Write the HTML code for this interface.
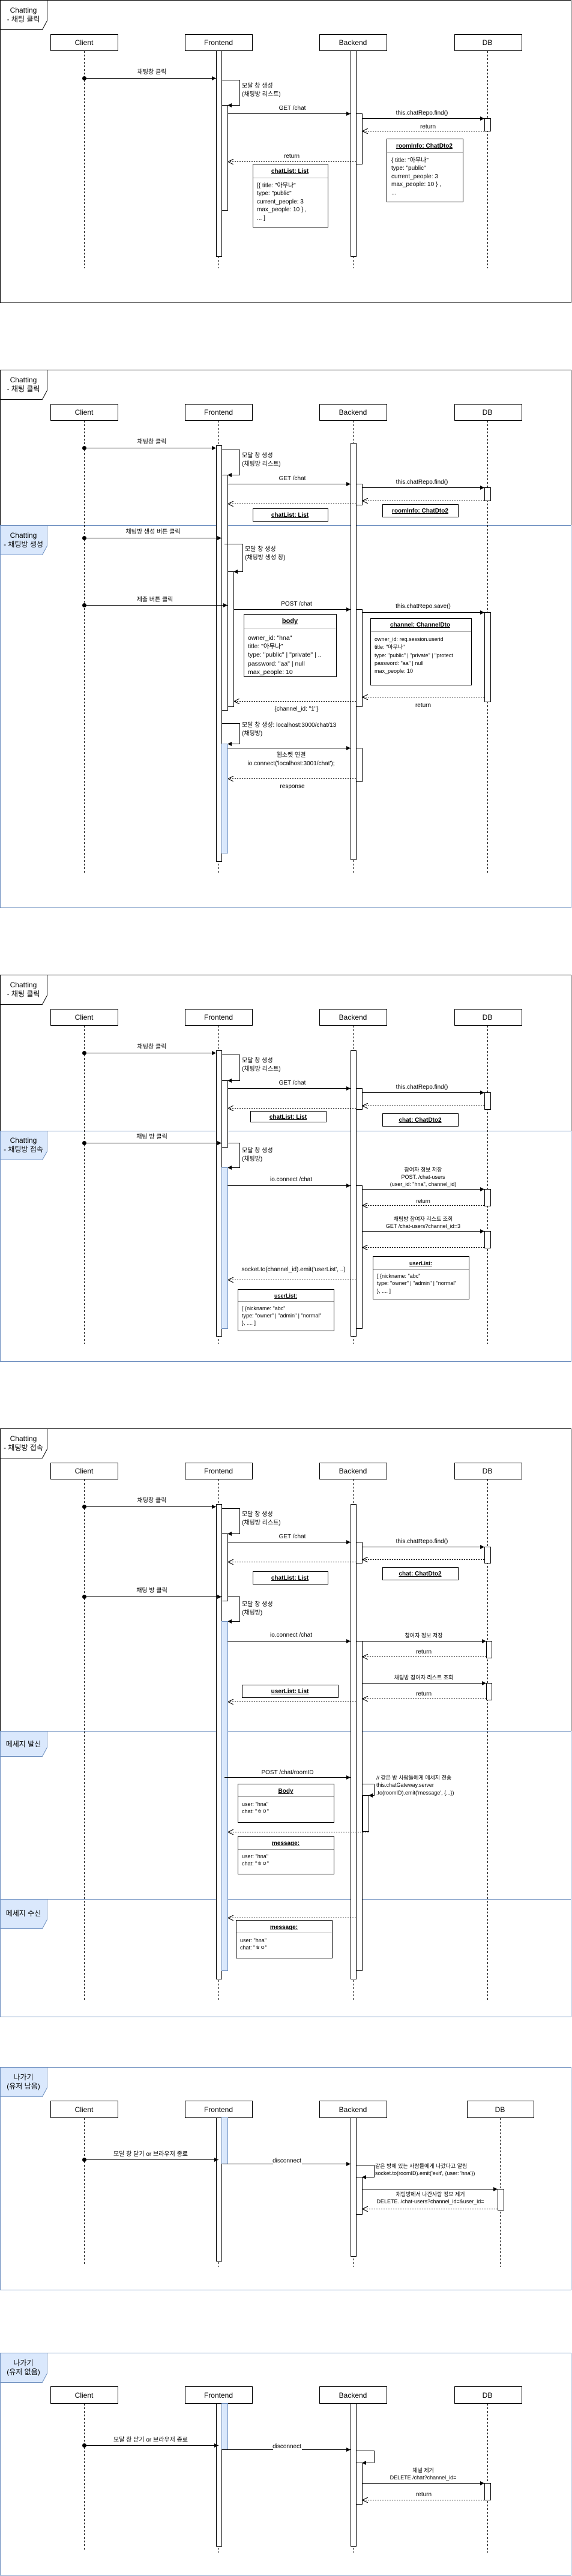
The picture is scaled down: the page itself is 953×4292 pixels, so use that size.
<!DOCTYPE html>
<html><head><meta charset="utf-8"><style>
html,body{margin:0;padding:0;background:#fff;}
svg{display:block;}
text{font-family:"Liberation Sans","Noto Sans CJK KR",sans-serif;fill:#000;}
.p{font-size:12px;text-anchor:middle;}
.l{font-size:10px;text-anchor:middle;}
.ll{font-size:10px;}
.s{font-size:9px;text-anchor:middle;}
.sl{font-size:9px;}
.t{font-size:12px;text-anchor:middle;}
.b{font-size:10px;font-weight:bold;text-anchor:middle;text-decoration:underline;}
.bl{font-size:10.5px;}
.ln{stroke:#000;stroke-width:1;fill:none;}
.dl{stroke:#000;stroke-width:1;fill:none;stroke-dasharray:3,3;}
.da{stroke:#000;stroke-width:1;fill:none;stroke-dasharray:2,2;}
.bx{fill:#fff;stroke:#000;stroke-width:1;}
.ac{fill:#fff;stroke:#000;stroke-width:1;}
.lb{fill:#dae8fc;stroke:#6c8ebf;stroke-width:1;}
.bf{fill:none;stroke:#6c8ebf;stroke-width:1;}
.kf{fill:none;stroke:#000;stroke-width:1;}
.sep{stroke:#999;stroke-width:1;}
</style></head><body>
<svg width="953" height="4292" viewBox="0 0 953 4292" xmlns="http://www.w3.org/2000/svg">
<defs>
<marker id="a" viewBox="0 0 10 10" refX="10" refY="5" markerWidth="7" markerHeight="7" markerUnits="userSpaceOnUse" orient="auto"><path d="M0,0 L10,5 L0,10 z" fill="#000"/></marker>
<marker id="o" viewBox="0 0 10 10" refX="10" refY="5" markerWidth="9" markerHeight="9" markerUnits="userSpaceOnUse" orient="auto"><path d="M0,0 L10,5 L0,10" fill="none" stroke="#000" stroke-width="1.2"/></marker>
</defs>

<!-- ================= FRAME 1 ================= -->
<rect x="0.5" y="0.5" width="951" height="504" class="kf"/>
<path d="M0.5,0.5 H78.5 V34.5 L70.5,49.5 H0.5 Z" fill="#fff" stroke="#000"/>
<text x="39" y="21" class="t">Chatting</text><text x="39" y="36" class="t">- 채팅 클릭</text>
<rect x="84.5" y="57.5" width="112" height="27" class="bx"/><text x="140" y="75" class="p">Client</text>
<rect x="308.5" y="57.5" width="112" height="27" class="bx"/><text x="364" y="75" class="p">Frontend</text>
<rect x="532.5" y="57.5" width="112" height="27" class="bx"/><text x="588" y="75" class="p">Backend</text>
<rect x="757.5" y="57.5" width="112" height="27" class="bx"/><text x="812" y="75" class="p">DB</text>
<line x1="140.5" y1="85" x2="140.5" y2="447" class="dl"/>
<line x1="364.5" y1="85" x2="364.5" y2="447" class="dl"/>
<line x1="588.5" y1="85" x2="588.5" y2="447" class="dl"/>
<line x1="812.5" y1="85" x2="812.5" y2="447" class="dl"/>
<rect x="360.5" y="84.5" width="9" height="343" class="ac"/>
<rect x="584.5" y="84.5" width="9" height="343" class="ac"/>
<circle cx="140.5" cy="130.5" r="3.5"/>
<line x1="140" y1="130.5" x2="360" y2="130.5" class="ln" marker-end="url(#a)"/>
<text x="253" y="123" class="l">채팅창 클릭</text>
<rect x="369.5" y="175.5" width="10" height="175" class="ac"/>
<polyline points="369,133.5 399.5,133.5 399.5,175.5 379,175.5" class="ln" marker-end="url(#a)"/>
<text x="403" y="146" class="ll">모달 창 생성</text><text x="403" y="160" class="ll">(채팅방 리스트)</text>
<line x1="379" y1="189.5" x2="584" y2="189.5" class="ln" marker-end="url(#a)"/>
<text x="487" y="183" class="l">GET /chat</text>
<rect x="593.5" y="189.5" width="10" height="84" class="ac"/>
<line x1="603" y1="197.5" x2="807" y2="197.5" class="ln" marker-end="url(#a)"/>
<text x="703" y="191" class="l">this.chatRepo.find()</text>
<rect x="807.5" y="197.5" width="10" height="21" class="ac"/>
<line x1="807" y1="218.5" x2="604" y2="218.5" class="da" marker-end="url(#o)"/>
<text x="713" y="214" class="l">return</text>
<rect x="644.5" y="231.5" width="127" height="105" class="bx"/>
<line x1="645" y1="254.5" x2="771" y2="254.5" class="sep"/>
<text x="707" y="246" class="b">roomInfo: ChatDto2</text>
<text x="652" y="270" class="ll">{ title: "아무나"</text><text x="652" y="283" class="ll">type: "public"</text><text x="652" y="297" class="ll">current_people: 3</text><text x="652" y="310" class="ll">max_people: 10 } ,</text><text x="652" y="324" class="ll">...</text>
<line x1="593" y1="269.5" x2="380" y2="269.5" class="da" marker-end="url(#o)"/>
<text x="486" y="263" class="l">return</text>
<rect x="421.5" y="273.5" width="125" height="105" class="bx"/>
<line x1="422" y1="296.5" x2="546" y2="296.5" class="sep"/>
<text x="483" y="288" class="b">chatList: List</text>
<text x="428" y="312" class="ll">[{ title: "아무나"</text><text x="428" y="325" class="ll">type: "public"</text><text x="428" y="339" class="ll">current_people: 3</text><text x="428" y="352" class="ll">max_people: 10 } ,</text><text x="428" y="366" class="ll">... ]</text>

<!-- ================= FRAME 2 ================= -->
<rect x="0.5" y="616.5" width="951" height="896" class="bf"/>
<polyline points="0.5,875 0.5,616.5 951.5,616.5 951.5,875" class="kf"/>
<line x1="0" y1="875.5" x2="952" y2="875.5" class="bf"/>
<path d="M0.5,616.5 H78.5 V650.5 L70.5,665.5 H0.5 Z" fill="#fff" stroke="#000"/>
<text x="39" y="637" class="t">Chatting</text><text x="39" y="652" class="t">- 채팅 클릭</text>
<rect x="84.5" y="673.5" width="112" height="27" class="bx"/><text x="140" y="691" class="p">Client</text>
<rect x="308.5" y="673.5" width="112" height="27" class="bx"/><text x="364" y="691" class="p">Frontend</text>
<rect x="532.5" y="673.5" width="112" height="27" class="bx"/><text x="588" y="691" class="p">Backend</text>
<rect x="757.5" y="673.5" width="112" height="27" class="bx"/><text x="812" y="691" class="p">DB</text>
<line x1="140.5" y1="701" x2="140.5" y2="1454" class="dl"/>
<line x1="364.5" y1="701" x2="364.5" y2="1454" class="dl"/>
<line x1="588.5" y1="701" x2="588.5" y2="1454" class="dl"/>
<line x1="812.5" y1="701" x2="812.5" y2="1454" class="dl"/>
<rect x="360.5" y="742.5" width="9" height="693" class="ac"/>
<rect x="584.5" y="738.5" width="9" height="694" class="ac"/>
<circle cx="140.5" cy="746.5" r="3.5"/>
<line x1="140" y1="746.5" x2="360" y2="746.5" class="ln" marker-end="url(#a)"/>
<text x="253" y="739" class="l">채팅창 클릭</text>
<rect x="369.5" y="791.5" width="10" height="392" class="ac"/>
<polyline points="369,749.5 399.5,749.5 399.5,791.5 379,791.5" class="ln" marker-end="url(#a)"/>
<text x="403" y="762" class="ll">모달 창 생성</text><text x="403" y="776" class="ll">(채팅방 리스트)</text>
<line x1="379" y1="806.5" x2="584" y2="806.5" class="ln" marker-end="url(#a)"/>
<text x="487" y="800" class="l">GET /chat</text>
<rect x="593.5" y="806.5" width="10" height="35" class="ac"/>
<line x1="603" y1="812.5" x2="807" y2="812.5" class="ln" marker-end="url(#a)"/>
<text x="703" y="806" class="l">this.chatRepo.find()</text>
<rect x="807.5" y="812.5" width="10" height="22" class="ac"/>
<line x1="807" y1="834.5" x2="604" y2="834.5" class="da" marker-end="url(#o)"/>
<line x1="593" y1="839.5" x2="380" y2="839.5" class="da" marker-end="url(#o)"/>
<rect x="421.5" y="847.5" width="125" height="21" class="bx"/><text x="483" y="861" class="b">chatList: List</text>
<rect x="637.5" y="840.5" width="126" height="21" class="bx"/><text x="700" y="854" class="b">roomInfo: ChatDto2</text>
<path d="M0.5,875.5 H78.5 V909.5 L70.5,924.5 H0.5 Z" class="lb"/>
<text x="39" y="896" class="t">Chatting</text><text x="39" y="911" class="t">- 채팅방 생성</text>
<circle cx="140.5" cy="896.5" r="3.5"/>
<line x1="140" y1="896.5" x2="369" y2="896.5" class="ln" marker-end="url(#a)"/>
<text x="255" y="889" class="l">채팅방 생성 버튼 클릭</text>
<rect x="379.5" y="952.5" width="10" height="225" class="ac"/>
<polyline points="374,906.5 404.5,906.5 404.5,952.5 389,952.5" class="ln" marker-end="url(#a)"/>
<text x="408" y="918" class="ll">모달 창 생성</text><text x="408" y="932" class="ll">(채팅방 생성 창)</text>
<circle cx="140.5" cy="1008.5" r="3.5"/>
<line x1="140" y1="1008.5" x2="379" y2="1008.5" class="ln" marker-end="url(#a)"/>
<text x="258" y="1002" class="l">제출 버튼 클릭</text>
<line x1="389" y1="1015.5" x2="584" y2="1015.5" class="ln" marker-end="url(#a)"/>
<text x="494" y="1009" class="l">POST /chat</text>
<rect x="593.5" y="1015.5" width="10" height="162" class="ac"/>
<line x1="603" y1="1020.5" x2="807" y2="1020.5" class="ln" marker-end="url(#a)"/>
<text x="705" y="1013" class="l">this.chatRepo.save()</text>
<rect x="807.5" y="1020.5" width="10" height="149" class="ac"/>
<rect x="406.5" y="1023.5" width="154" height="104" class="bx"/>
<line x1="407" y1="1046.5" x2="560" y2="1046.5" class="sep"/>
<text x="483" y="1038" class="b" style="font-size:11px">body</text>
<text x="413" y="1066" class="bl">owner_id: "hna"</text><text x="413" y="1080" class="bl">title: "아무나"</text><text x="413" y="1094" class="bl">type: "public" | "private" | ..</text><text x="413" y="1109" class="bl">password: "aa" | null</text><text x="413" y="1123" class="bl">max_people: 10</text>
<rect x="617.5" y="1030.5" width="168" height="111" class="bx"/>
<line x1="618" y1="1052.5" x2="785" y2="1052.5" class="sep"/>
<text x="700" y="1044" class="b">channel: ChannelDto</text>
<text x="624" y="1068" class="sl">owner_id: req.session.userid</text><text x="624" y="1081" class="sl">title: "아무나"</text><text x="624" y="1095" class="sl">type: "public" | "private" | "protect</text><text x="624" y="1108" class="sl">password: "aa" | null</text><text x="624" y="1121" class="sl">max_people: 10</text>
<line x1="807" y1="1161.5" x2="604" y2="1161.5" class="da" marker-end="url(#o)"/>
<text x="705" y="1178" class="l">return</text>
<line x1="593" y1="1168.5" x2="390" y2="1168.5" class="da" marker-end="url(#o)"/>
<text x="494" y="1184" class="l">{channel_id: "1"}</text>
<polyline points="369,1205.5 399.5,1205.5 399.5,1239.5 379,1239.5" class="ln" marker-end="url(#a)"/>
<text x="403" y="1211" class="ll">모달 창 생성: localhost:3000/chat/13</text><text x="403" y="1225" class="ll">(채팅방)</text>
<rect x="369.5" y="1239.5" width="10" height="182" class="lb"/>
<line x1="379" y1="1246.5" x2="584" y2="1246.5" class="ln" marker-end="url(#a)"/>
<rect x="593.5" y="1246.5" width="10" height="56" class="ac"/>
<text x="485" y="1261" class="l">웹소켓 연결</text><text x="485" y="1275" class="l">io.connect('localhost:3001/chat');</text>
<line x1="593" y1="1297.5" x2="380" y2="1297.5" class="da" marker-end="url(#o)"/>
<text x="487" y="1313" class="l">response</text>

<!-- ================= FRAME 3 ================= -->
<rect x="0.5" y="1624.5" width="951" height="644" class="bf"/>
<polyline points="0.5,1884 0.5,1624.5 951.5,1624.5 951.5,1884" class="kf"/>
<line x1="0" y1="1884.5" x2="952" y2="1884.5" class="bf"/>
<path d="M0.5,1624.5 H78.5 V1658.5 L70.5,1673.5 H0.5 Z" fill="#fff" stroke="#000"/>
<text x="39" y="1645" class="t">Chatting</text><text x="39" y="1660" class="t">- 채팅 클릭</text>
<rect x="84.5" y="1681.5" width="112" height="27" class="bx"/><text x="140" y="1699" class="p">Client</text>
<rect x="308.5" y="1681.5" width="112" height="27" class="bx"/><text x="364" y="1699" class="p">Frontend</text>
<rect x="532.5" y="1681.5" width="112" height="27" class="bx"/><text x="588" y="1699" class="p">Backend</text>
<rect x="757.5" y="1681.5" width="112" height="27" class="bx"/><text x="812" y="1699" class="p">DB</text>
<line x1="140.5" y1="1709" x2="140.5" y2="2239" class="dl"/>
<line x1="364.5" y1="1709" x2="364.5" y2="2239" class="dl"/>
<line x1="588.5" y1="1709" x2="588.5" y2="2239" class="dl"/>
<line x1="812.5" y1="1709" x2="812.5" y2="2239" class="dl"/>
<rect x="360.5" y="1750.5" width="9" height="476" class="ac"/>
<rect x="584.5" y="1750.5" width="9" height="476" class="ac"/>
<circle cx="140.5" cy="1754.5" r="3.5"/>
<line x1="140" y1="1754.5" x2="360" y2="1754.5" class="ln" marker-end="url(#a)"/>
<text x="253" y="1747" class="l">채팅창 클릭</text>
<rect x="369.5" y="1800.5" width="10" height="111" class="ac"/>
<polyline points="369,1757.5 399.5,1757.5 399.5,1800.5 379,1800.5" class="ln" marker-end="url(#a)"/>
<text x="403" y="1770" class="ll">모달 창 생성</text><text x="403" y="1784" class="ll">(채팅방 리스트)</text>
<line x1="379" y1="1813.5" x2="584" y2="1813.5" class="ln" marker-end="url(#a)"/>
<text x="487" y="1807" class="l">GET /chat</text>
<rect x="593.5" y="1813.5" width="10" height="35" class="ac"/>
<line x1="603" y1="1820.5" x2="807" y2="1820.5" class="ln" marker-end="url(#a)"/>
<text x="703" y="1814" class="l">this.chatRepo.find()</text>
<rect x="807.5" y="1820.5" width="10" height="28" class="ac"/>
<line x1="807" y1="1842.5" x2="604" y2="1842.5" class="da" marker-end="url(#o)"/>
<line x1="593" y1="1846.5" x2="380" y2="1846.5" class="da" marker-end="url(#o)"/>
<rect x="417.5" y="1851.5" width="126" height="18" class="bx"/><text x="480" y="1864" class="b">chatList: List</text>
<rect x="637.5" y="1855.5" width="126" height="21" class="bx"/><text x="700" y="1869" class="b">chat: ChatDto2</text>
<path d="M0.5,1884.5 H78.5 V1918.5 L70.5,1932.5 H0.5 Z" class="lb"/>
<text x="39" y="1904" class="t">Chatting</text><text x="39" y="1919" class="t">- 채팅방 접속</text>
<circle cx="140.5" cy="1904.5" r="3.5"/>
<line x1="140" y1="1904.5" x2="369" y2="1904.5" class="ln" marker-end="url(#a)"/>
<text x="253" y="1897" class="l">채팅 방 클릭</text>
<polyline points="379,1904.5 399.5,1904.5 399.5,1945.5 379,1945.5" class="ln" marker-end="url(#a)"/>
<text x="403" y="1920" class="ll">모달 창 생성</text><text x="403" y="1934" class="ll">(채팅방)</text>
<rect x="369.5" y="1945.5" width="10" height="268" class="lb"/>
<line x1="379" y1="1975.5" x2="584" y2="1975.5" class="ln" marker-end="url(#a)"/>
<text x="485" y="1968" class="l">io.connect /chat</text>
<rect x="593.5" y="1975.5" width="10" height="238" class="ac"/>
<text x="705" y="1952" class="s">참여자 정보 저장</text><text x="705" y="1964" class="s">POST. /chat-users</text><text x="705" y="1976" class="s">(user_id: "hna", channel_id)</text>
<line x1="603" y1="1981.5" x2="807" y2="1981.5" class="ln" marker-end="url(#a)"/>
<rect x="807.5" y="1981.5" width="10" height="28" class="ac"/>
<line x1="807" y1="2008.5" x2="604" y2="2008.5" class="da" marker-end="url(#o)"/>
<text x="705" y="2004" class="s">return</text>
<text x="705" y="2034" class="s">채팅방 참여자 리스트 조회</text><text x="705" y="2046" class="s">GET  /chat-users?channel_id=3</text>
<line x1="603" y1="2051.5" x2="807" y2="2051.5" class="ln" marker-end="url(#a)"/>
<rect x="807.5" y="2051.5" width="10" height="28" class="ac"/>
<line x1="807" y1="2078.5" x2="604" y2="2078.5" class="da" marker-end="url(#o)"/>
<rect x="621.5" y="2093.5" width="160" height="71" class="bx"/>
<line x1="622" y1="2115.5" x2="781" y2="2115.5" class="sep"/>
<text x="701" y="2108" class="b" style="font-size:9px">userList:</text>
<text x="628" y="2129" class="sl">[ {nickname: "abc"</text><text x="628" y="2141" class="sl"> type: "owner" | "admin" | "normal"</text><text x="628" y="2154" class="sl">}, .... ]</text>
<text x="489" y="2118" class="l">socket.to(channel_id).emit('userList', ..)</text>
<line x1="593" y1="2132.5" x2="380" y2="2132.5" class="da" marker-end="url(#o)"/>
<rect x="396.5" y="2148.5" width="160" height="69" class="bx"/>
<line x1="397" y1="2168.5" x2="556" y2="2168.5" class="sep"/>
<text x="476" y="2162" class="b" style="font-size:9px">userList:</text>
<text x="403" y="2183" class="sl">[ {nickname: "abc"</text><text x="403" y="2195" class="sl"> type: "owner" | "admin" | "normal"</text><text x="403" y="2207" class="sl">}, .... ]</text>

<!-- ================= FRAME 4 ================= -->
<rect x="0.5" y="2380.5" width="951" height="980" class="bf"/>
<polyline points="0.5,2884 0.5,2380.5 951.5,2380.5 951.5,2884" class="kf"/>
<line x1="0" y1="2884.5" x2="952" y2="2884.5" class="bf"/>
<line x1="0" y1="3164.5" x2="952" y2="3164.5" class="bf"/>
<path d="M0.5,2380.5 H78.5 V2414.5 L70.5,2429.5 H0.5 Z" fill="#fff" stroke="#000"/>
<text x="39" y="2401" class="t">Chatting</text><text x="39" y="2416" class="t">- 채팅방 접속</text>
<rect x="84.5" y="2437.5" width="112" height="27" class="bx"/><text x="140" y="2455" class="p">Client</text>
<rect x="308.5" y="2437.5" width="112" height="27" class="bx"/><text x="364" y="2455" class="p">Frontend</text>
<rect x="532.5" y="2437.5" width="112" height="27" class="bx"/><text x="588" y="2455" class="p">Backend</text>
<rect x="757.5" y="2437.5" width="112" height="27" class="bx"/><text x="812" y="2455" class="p">DB</text>
<line x1="140.5" y1="2465" x2="140.5" y2="3332" class="dl"/>
<line x1="364.5" y1="2465" x2="364.5" y2="3332" class="dl"/>
<line x1="588.5" y1="2465" x2="588.5" y2="3332" class="dl"/>
<line x1="812.5" y1="2465" x2="812.5" y2="3332" class="dl"/>
<rect x="360.5" y="2506.5" width="9" height="791" class="ac"/>
<rect x="584.5" y="2506.5" width="9" height="791" class="ac"/>
<circle cx="140.5" cy="2510.5" r="3.5"/>
<line x1="140" y1="2510.5" x2="360" y2="2510.5" class="ln" marker-end="url(#a)"/>
<text x="253" y="2503" class="l">채팅창 클릭</text>
<rect x="369.5" y="2555.5" width="10" height="112" class="ac"/>
<polyline points="369,2513.5 399.5,2513.5 399.5,2555.5 379,2555.5" class="ln" marker-end="url(#a)"/>
<text x="403" y="2526" class="ll">모달 창 생성</text><text x="403" y="2540" class="ll">(채팅방 리스트)</text>
<line x1="379" y1="2569.5" x2="584" y2="2569.5" class="ln" marker-end="url(#a)"/>
<text x="487" y="2563" class="l">GET /chat</text>
<rect x="593.5" y="2569.5" width="10" height="35" class="ac"/>
<line x1="603" y1="2577.5" x2="807" y2="2577.5" class="ln" marker-end="url(#a)"/>
<text x="703" y="2571" class="l">this.chatRepo.find()</text>
<rect x="807.5" y="2577.5" width="10" height="27" class="ac"/>
<line x1="807" y1="2598.5" x2="604" y2="2598.5" class="da" marker-end="url(#o)"/>
<line x1="593" y1="2602.5" x2="380" y2="2602.5" class="da" marker-end="url(#o)"/>
<rect x="421.5" y="2618.5" width="125" height="21" class="bx"/><text x="483" y="2632" class="b">chatList: List</text>
<rect x="637.5" y="2611.5" width="126" height="21" class="bx"/><text x="700" y="2625" class="b">chat: ChatDto2</text>
<circle cx="140.5" cy="2660.5" r="3.5"/>
<line x1="140" y1="2660.5" x2="369" y2="2660.5" class="ln" marker-end="url(#a)"/>
<text x="253" y="2653" class="l">채팅 방 클릭</text>
<polyline points="379,2660.5 399.5,2660.5 399.5,2701.5 379,2701.5" class="ln" marker-end="url(#a)"/>
<text x="403" y="2676" class="ll">모달 창 생성</text><text x="403" y="2690" class="ll">(채팅방)</text>
<rect x="369.5" y="2701.5" width="10" height="582" class="lb"/>
<line x1="379" y1="2734.5" x2="584" y2="2734.5" class="ln" marker-end="url(#a)"/>
<text x="485" y="2727" class="l">io.connect /chat</text>
<rect x="593.5" y="2734.5" width="10" height="549" class="ac"/>
<line x1="593" y1="2734.5" x2="810" y2="2734.5" class="ln" marker-end="url(#a)"/>
<text x="706" y="2728" class="s">참여자 정보 저장</text>
<rect x="810.5" y="2734.5" width="9" height="28" class="ac"/>
<line x1="810" y1="2760.5" x2="604" y2="2760.5" class="da" marker-end="url(#o)"/>
<text x="706" y="2755" class="l">return</text>
<line x1="603" y1="2804.5" x2="810" y2="2804.5" class="ln" marker-end="url(#a)"/>
<text x="706" y="2798" class="s">채팅방 참여자 리스트 조회</text>
<rect x="810.5" y="2804.5" width="9" height="28" class="ac"/>
<line x1="810" y1="2830.5" x2="604" y2="2830.5" class="da" marker-end="url(#o)"/>
<text x="706" y="2825" class="l">return</text>
<rect x="403.5" y="2807.5" width="160" height="21" class="bx"/><text x="483" y="2821" class="b">userList: List</text>
<line x1="593" y1="2835.5" x2="380" y2="2835.5" class="da" marker-end="url(#o)"/>
<path d="M0.5,2884.5 H78.5 V2911.5 L70.5,2926.5 H0.5 Z" class="lb"/>
<text x="39" y="2910" class="t">메세지 발신</text>
<line x1="374" y1="2961.5" x2="584" y2="2961.5" class="ln" marker-end="url(#a)"/>
<text x="479" y="2956" class="l">POST  /chat/roomID</text>
<polyline points="603,2972.5 623.5,2972.5 623.5,2991.5 614,2991.5" class="ln" marker-end="url(#a)"/>
<text x="627" y="2965" class="sl">// 같은 방 사람들에게 메세지 전송</text><text x="627" y="2977" class="sl">this.chatGateway.server</text><text x="627" y="2990" class="sl"> .to(roomID).emit('message', {...})</text>
<rect x="604.5" y="2991.5" width="10" height="60" class="ac"/>
<rect x="396.5" y="2972.5" width="160" height="64" class="bx"/>
<line x1="397" y1="2993.5" x2="556" y2="2993.5" class="sep"/>
<text x="476" y="2987" class="b">Body</text>
<text x="403" y="3009" class="sl">user: "hna"</text><text x="403" y="3021" class="sl">chat: "ㅎㅇ"</text>
<line x1="614" y1="3052.5" x2="380" y2="3052.5" class="da" marker-end="url(#o)"/>
<rect x="396.5" y="3059.5" width="160" height="63" class="bx"/>
<line x1="397" y1="3081.5" x2="556" y2="3081.5" class="sep"/>
<text x="476" y="3074" class="b">message:</text>
<text x="403" y="3096" class="sl">user: "hna"</text><text x="403" y="3108" class="sl">chat: "ㅎㅇ"</text>
<path d="M0.5,3164.5 H78.5 V3198.5 L70.5,3213.5 H0.5 Z" class="lb"/>
<text x="39" y="3192" class="t">메세지 수신</text>
<line x1="593" y1="3195.5" x2="380" y2="3195.5" class="da" marker-end="url(#o)"/>
<rect x="393.5" y="3199.5" width="160" height="63" class="bx"/>
<line x1="394" y1="3220.5" x2="553" y2="3220.5" class="sep"/>
<text x="473" y="3214" class="b">message:</text>
<text x="400" y="3236" class="sl">user: "hna"</text><text x="400" y="3248" class="sl">chat: "ㅎㅇ"</text>

<!-- ================= FRAME 5 ================= -->
<rect x="0.5" y="3444.5" width="951" height="371" class="bf"/>
<path d="M0.5,3444.5 H78.5 V3478.5 L70.5,3493.5 H0.5 Z" class="lb"/>
<text x="39" y="3465" class="t">나가기</text><text x="39" y="3480" class="t">(유저 남음)</text>
<rect x="84.5" y="3500.5" width="112" height="28" class="bx"/><text x="140" y="3519" class="p">Client</text>
<rect x="308.5" y="3500.5" width="112" height="28" class="bx"/><text x="364" y="3519" class="p">Frontend</text>
<rect x="532.5" y="3500.5" width="112" height="28" class="bx"/><text x="588" y="3519" class="p">Backend</text>
<rect x="778.5" y="3500.5" width="111" height="28" class="bx"/><text x="833" y="3519" class="p">DB</text>
<line x1="140.5" y1="3529" x2="140.5" y2="3772" class="dl"/>
<line x1="364.5" y1="3529" x2="364.5" y2="3777" class="dl"/>
<line x1="588.5" y1="3529" x2="588.5" y2="3777" class="dl"/>
<line x1="833.5" y1="3529" x2="833.5" y2="3777" class="dl"/>
<rect x="360.5" y="3528.5" width="9" height="239" class="ac"/>
<rect x="369.5" y="3528.5" width="10" height="77" class="lb"/>
<rect x="584.5" y="3528.5" width="9" height="231" class="ac"/>
<circle cx="140.5" cy="3598.5" r="3.5"/>
<line x1="140" y1="3598.5" x2="364" y2="3598.5" class="ln" marker-end="url(#a)"/>
<text x="251" y="3592" class="l">모달 창 닫기 or 브라우저 종료</text>
<line x1="369" y1="3605.5" x2="584" y2="3605.5" class="ln" marker-end="url(#a)"/>
<rect x="455" y="3594" width="48" height="12" fill="#fff"/>
<text x="478" y="3603" class="l">disconnect</text>
<polyline points="593,3607.5 623.5,3607.5 623.5,3627.5 603,3627.5" class="ln" marker-end="url(#a)"/>
<text x="625" y="3612" class="sl">같은 방에 있는 사람들에게 나갔다고 알림</text><text x="625" y="3624" class="sl">socket.to(roomID).emit('exit', {user: 'hna'})</text>
<rect x="593.5" y="3627.5" width="10" height="62" class="ac"/>
<line x1="603" y1="3647.5" x2="829" y2="3647.5" class="ln" marker-end="url(#a)"/>
<text x="717" y="3659" class="s">채팅방에서 나간사람 정보 제거</text><text x="717" y="3671" class="s">DELETE. /chat-users?channel_id=&amp;user_id=</text>
<rect x="829.5" y="3647.5" width="10" height="35" class="ac"/>
<line x1="829" y1="3680.5" x2="604" y2="3680.5" class="da" marker-end="url(#o)"/>

<!-- ================= FRAME 6 ================= -->
<rect x="0.5" y="3920.5" width="951" height="370.5" class="bf"/>
<path d="M0.5,3920.5 H78.5 V3954.5 L70.5,3969.5 H0.5 Z" class="lb"/>
<text x="39" y="3941" class="t">나가기</text><text x="39" y="3956" class="t">(유저 없음)</text>
<rect x="84.5" y="3976.5" width="112" height="28" class="bx"/><text x="140" y="3995" class="p">Client</text>
<rect x="308.5" y="3976.5" width="112" height="28" class="bx"/><text x="364" y="3995" class="p">Frontend</text>
<rect x="532.5" y="3976.5" width="112" height="28" class="bx"/><text x="588" y="3995" class="p">Backend</text>
<rect x="757.5" y="3976.5" width="112" height="28" class="bx"/><text x="812" y="3995" class="p">DB</text>
<line x1="140.5" y1="4005" x2="140.5" y2="4248" class="dl"/>
<line x1="364.5" y1="4005" x2="364.5" y2="4253" class="dl"/>
<line x1="588.5" y1="4005" x2="588.5" y2="4253" class="dl"/>
<line x1="812.5" y1="4005" x2="812.5" y2="4253" class="dl"/>
<rect x="360.5" y="4004.5" width="9" height="238" class="ac"/>
<rect x="369.5" y="4004.5" width="10" height="77" class="lb"/>
<rect x="584.5" y="4004.5" width="9" height="238" class="ac"/>
<circle cx="140.5" cy="4074.5" r="3.5"/>
<line x1="140" y1="4074.5" x2="364" y2="4074.5" class="ln" marker-end="url(#a)"/>
<text x="251" y="4068" class="l">모달 창 닫기 or 브라우저 종료</text>
<line x1="369" y1="4081.5" x2="584" y2="4081.5" class="ln" marker-end="url(#a)"/>
<rect x="455" y="4070" width="48" height="12" fill="#fff"/>
<text x="478" y="4079" class="l">disconnect</text>
<polyline points="593,4083.5 623.5,4083.5 623.5,4103.5 603,4103.5" class="ln" marker-end="url(#a)"/>
<rect x="593.5" y="4103.5" width="10" height="69" class="ac"/>
<text x="705" y="4119" class="s">채널 제거</text><text x="705" y="4131" class="s">DELETE /chat?channel_id=</text>
<line x1="603" y1="4137.5" x2="807" y2="4137.5" class="ln" marker-end="url(#a)"/>
<rect x="807.5" y="4137.5" width="10" height="28" class="ac"/>
<line x1="807" y1="4165.5" x2="604" y2="4165.5" class="da" marker-end="url(#o)"/>
<text x="706" y="4159" class="l">return</text>
</svg>
</body></html>
